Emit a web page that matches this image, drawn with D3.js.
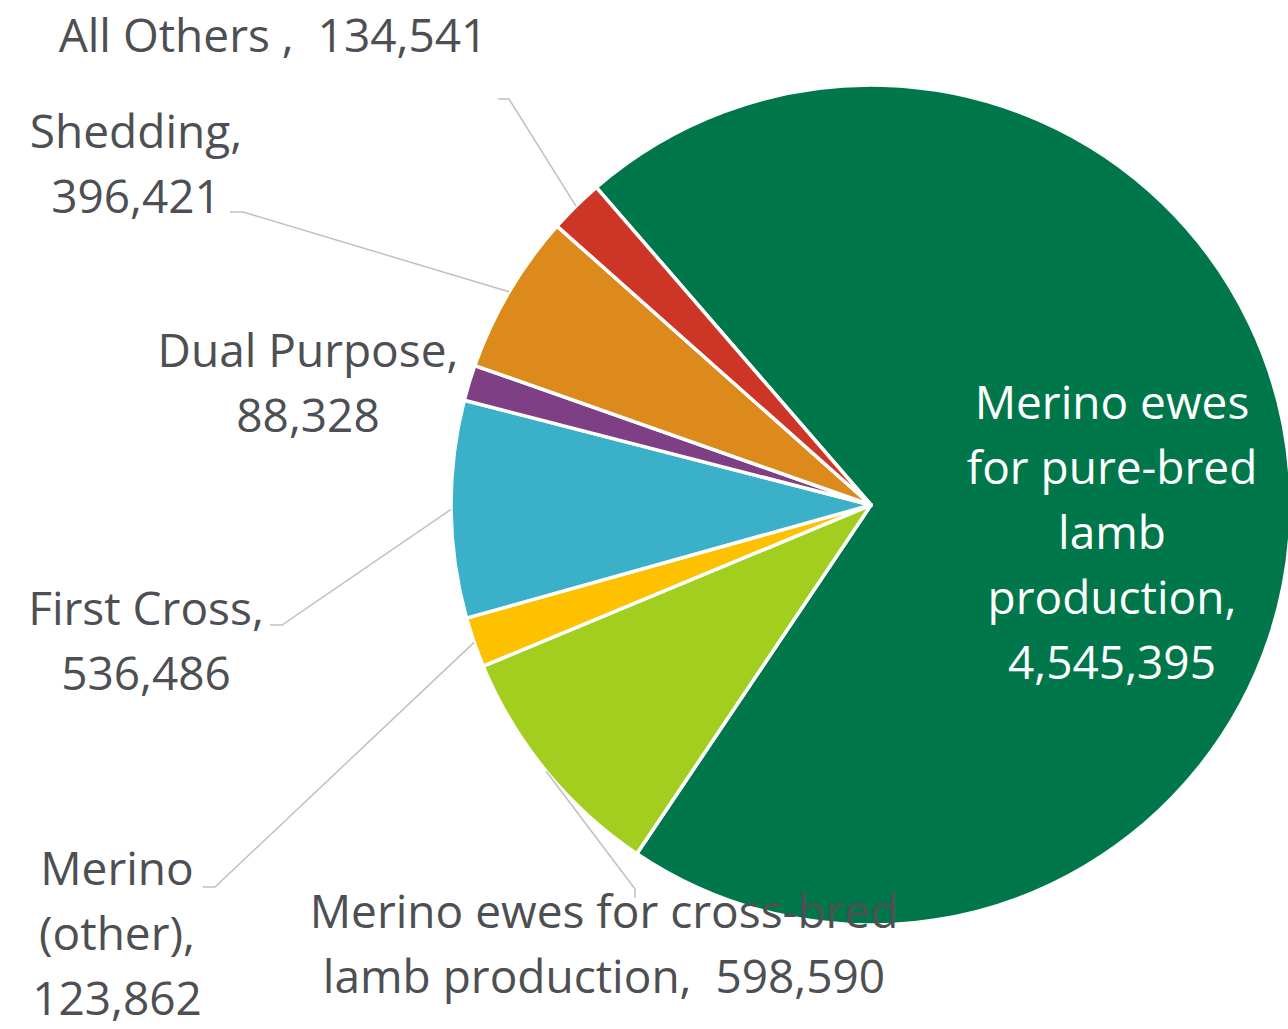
<!DOCTYPE html>
<html>
<head>
<meta charset="utf-8">
<script src="https://cdn.jsdelivr.net/npm/d3@7"></script>
<style>
  html, body { margin: 0; padding: 0; background: #fff; }
  svg { display: block; }
</style>
</head>
<body>
<svg id="chart" width="1288" height="1029"></svg>
<script>
// ---- data ----
const categories = [
  "Merino ewes for pure-bred lamb production",
  "Merino ewes for cross-bred lamb production",
  "Merino (other)",
  "First Cross",
  "Dual Purpose",
  "Shedding",
  "All Others"
];
const values = [4545395, 598590, 123862, 536486, 88328, 396421, 134541];
const colors = ["#00774A", "#A2CE1F", "#FDC100", "#3AB0C9", "#7E3F84", "#DB8A1B", "#CD3626"];

// ---- layout (styling only) ----
const W = 1288, H = 1029;
const cx = 871, cy = 505, R = 420;
const startDeg = -40.85;
const fontFamily = "'Open Sans', sans-serif";
const fontSize = 46;
const lineH = 65;
const textGrey = "#4D4F53";
const leaderGrey = "#C0C0C0";

// label layout per category: lines, anchor centre x, first baseline y, leader elbow points
const labelLayout = [
  { lines: ["Merino ewes", "for pure-bred", "lamb", "production,", "4,545,395"], x: 1112, y: 419, fill: "#ffffff", leader: null },
  { lines: ["Merino ewes for cross-bred", "lamb production,  598,590"], x: 604, y: 928, fill: textGrey, leader: [[635, 898], [635, 889]] },
  { lines: ["Merino", "(other),", "123,862"], x: 117, y: 885, fill: textGrey, leader: [[203, 887], [215, 887]] },
  { lines: ["First Cross,", "536,486"], x: 146, y: 625, fill: textGrey, leader: [[270, 625], [282, 625]] },
  { lines: ["Dual Purpose,", "88,328"], x: 308, y: 367, fill: textGrey, leader: null },
  { lines: ["Shedding,", "396,421"], x: 136, y: 148, fill: textGrey, leader: [[230, 212], [243, 212]] },
  { lines: ["All Others ,  134,541"], x: 273, y: 52, fill: textGrey, leader: [[498, 99], [509, 99]] }
];

const svg = d3.select("#chart");
const g = svg.append("g").attr("transform", `translate(${cx},${cy})`);

const pie = d3.pie().sort(null).value(d => d.value)
  .startAngle(startDeg * Math.PI / 180)
  .endAngle(startDeg * Math.PI / 180 + 2 * Math.PI);

const data = categories.map((c, i) => ({ name: c, value: values[i], color: colors[i], layout: labelLayout[i] }));
const arcs = pie(data);

const arc = d3.arc().innerRadius(0).outerRadius(R);

g.selectAll("path.slice")
  .data(arcs)
  .join("path")
  .attr("class", "slice")
  .attr("d", arc)
  .attr("fill", d => d.data.color)
  .attr("stroke", "#ffffff")
  .attr("stroke-width", 3.5)
  .attr("stroke-linejoin", "round");

// leader lines
const outerArc = d3.arc().innerRadius(R).outerRadius(R);
arcs.forEach(a => {
  const lay = a.data.layout;
  if (!lay.leader) return;
  const mid = (a.startAngle + a.endAngle) / 2;
  const px = cx + R * Math.sin(mid);
  const py = cy - R * Math.cos(mid);
  const pts = lay.leader.concat([[px, py]]);
  svg.append("path")
    .attr("d", d3.line()(pts))
    .attr("fill", "none")
    .attr("stroke", leaderGrey)
    .attr("stroke-width", 1.5);
});

// labels
arcs.forEach(a => {
  const lay = a.data.layout;
  const t = svg.append("text")
    .attr("font-family", fontFamily)
    .attr("font-size", fontSize)
    .attr("fill", lay.fill)
    .attr("text-anchor", "middle");
  lay.lines.forEach((ln, i) => {
    t.append("tspan")
      .attr("x", lay.x)
      .attr("y", lay.y + i * lineH)
      .attr("xml:space", "preserve")
      .style("white-space", "pre")
      .text(ln);
  });
});
</script>
</body>
</html>
